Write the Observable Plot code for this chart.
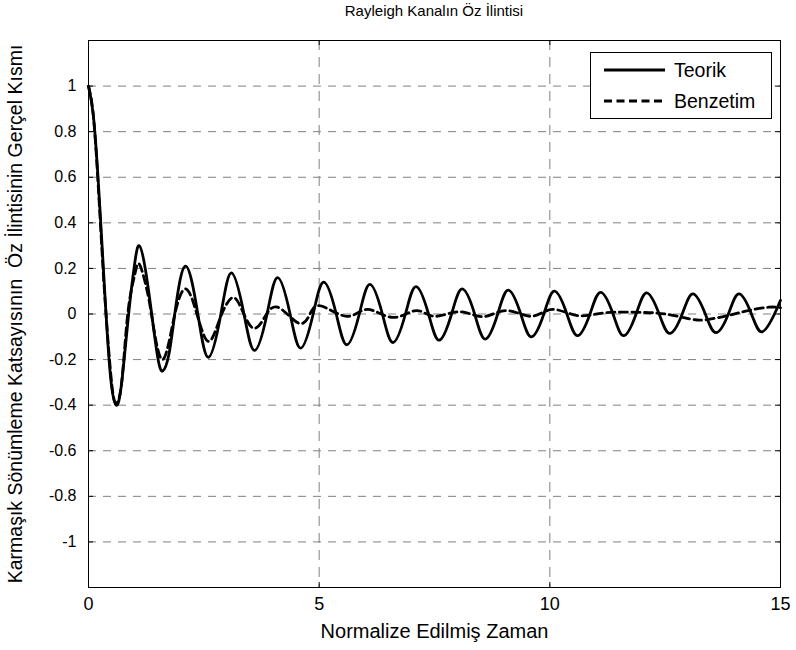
<!DOCTYPE html>
<html>
<head>
<meta charset="utf-8">
<script src="https://cdn.jsdelivr.net/npm/d3@7"></script>
<script src="https://cdn.jsdelivr.net/npm/@observablehq/plot@0.6"></script>
<style>
  html, body { margin: 0; padding: 0; background: #fff; }
  #wrap { position: relative; width: 796px; height: 650px; font-family: "Liberation Sans", Arial, sans-serif; }
  #title { position: absolute; left: 88px; width: 692px; top: 2px; text-align: center; font-size: 15px; color: #000; }
  #legend { position: absolute; left: 590px; top: 52px; width: 182px; height: 67px; border: 1px solid #000; background: #fff; box-sizing: border-box; }
  #legend svg { position: absolute; left: 0; top: 0; }
</style>
</head>
<body>
<div id="wrap">
  <div id="chart"></div>
  <div id="title">Rayleigh Kanalın Öz İlintisi</div>
  <div id="legend"></div>
</div>
<script>
const seriesNames = ["Teorik", "Benzetim"];
const xTicks = [0, 5, 10, 15];
const yTicks = [-1, -0.8, -0.6, -0.4, -0.2, 0, 0.2, 0.4, 0.6, 0.8, 1];

const timeTeorik = [0, 0.1, 0.2, 0.3, 0.38, 0.48, 0.6, 0.72, 0.87, 1.0, 1.1, 1.23, 1.37, 1.5, 1.61, 1.74, 1.87,
  2.1, 2.37, 2.6, 2.87, 3.1, 3.37, 3.6, 3.87, 4.1, 4.37, 4.6, 4.87, 5.1, 5.37, 5.6, 5.87,
  6.1, 6.37, 6.6, 6.87, 7.1, 7.37, 7.6, 7.87, 8.1, 8.37, 8.6, 8.87, 9.1, 9.37, 9.6, 9.87,
  10.1, 10.37, 10.6, 10.87, 11.1, 11.37, 11.6, 11.87, 12.1, 12.37, 12.6, 12.87,
  13.1, 13.37, 13.6, 13.87, 14.1, 14.37, 14.6, 14.87, 15];
const valuesTeorik = [1.0, 0.88, 0.62, 0.28, 0, -0.28, -0.40, -0.30, 0, 0.22, 0.30, 0.20, 0, -0.19, -0.25, -0.18, 0,
  0.21, 0, -0.19, 0, 0.18, 0, -0.16, 0, 0.16, 0, -0.15, 0, 0.14, 0, -0.135, 0,
  0.13, 0, -0.125, 0, 0.12, 0, -0.115, 0, 0.11, 0, -0.11, 0, 0.105, 0, -0.10, 0,
  0.10, 0, -0.095, 0, 0.095, 0, -0.095, 0, 0.093, 0, -0.085, 0,
  0.088, 0, -0.082, 0, 0.088, 0, -0.078, 0, 0.06];

const timeBenzetim = [0, 0.1, 0.2, 0.3, 0.38, 0.5, 0.6, 0.72, 0.85, 1.0, 1.1, 1.25, 1.38, 1.6, 1.85,
  2.1, 2.35, 2.6, 2.85, 3.1, 3.3, 3.55, 3.8, 4.1, 4.55, 4.8, 5.05, 5.6, 6.05, 6.6, 7.1,
  7.5, 8.05, 8.55, 9.05, 9.6, 10.05, 10.6, 11.2, 12.0, 12.5, 13.0, 13.35, 13.85, 14.3, 14.75, 15];
const valuesBenzetim = [1.0, 0.88, 0.6, 0.25, 0, -0.3, -0.39, -0.3, 0, 0.17, 0.22, 0.12, -0.02, -0.2, -0.02,
  0.11, 0, -0.12, -0.02, 0.07, 0.03, -0.06, -0.02, 0.03, -0.04, 0.0, 0.035, -0.01, 0.02, -0.015, 0.015,
  -0.01, 0.01, -0.012, 0.015, -0.01, 0.02, -0.007, 0.005, 0.007, 0.0, -0.02, -0.026, -0.007, 0.015, 0.03, 0.027];

const teorik = timeTeorik.map((t, i) => ({t, v: valuesTeorik[i]}));
const benzetim = timeBenzetim.map((t, i) => ({t, v: valuesBenzetim[i]}));

const fmtY = d => d === 0 ? "0" : String(+d.toFixed(1));
const gridColor = "#808080";
const xLabel = "Normalize Edilmiş Zaman";
const yLabel = "Karmaşık Sönümleme Katsayısının  Öz İlintisinin Gerçel Kısmı";
const dashSeries = "8,4.5";

const chart = Plot.plot({
  width: 796,
  height: 650,
  marginLeft: 88,
  marginRight: 16,
  marginTop: 40,
  marginBottom: 63,
  style: {fontFamily: "Liberation Sans, Arial, sans-serif", fontSize: "16px", color: "#000", background: "#fff"},
  x: {domain: [0, 15]},
  y: {domain: [-1.2, 1.2]},
  marks: [
    Plot.ruleX(xTicks.slice(1, -1), {stroke: gridColor, strokeDasharray: "10,7", strokeWidth: 1}),
    Plot.ruleY(yTicks, {stroke: gridColor, strokeDasharray: "8,7", strokeWidth: 1}),
    Plot.ruleY(yTicks, {x1: 0, x2: 0.11, stroke: "#000"}),
    Plot.ruleY(yTicks, {x1: 14.89, x2: 15, stroke: "#000"}),
    Plot.ruleX(xTicks, {y1: -1.2, y2: -1.178, stroke: "#000"}),
    Plot.ruleX(xTicks, {y1: 1.2, y2: 1.178, stroke: "#000"}),
    Plot.line(teorik, {x: "t", y: "v", curve: "natural", stroke: "#000", strokeWidth: 2.8}),
    Plot.line(benzetim, {x: "t", y: "v", curve: "natural", stroke: "#000", strokeWidth: 2.8, strokeDasharray: dashSeries}),
    Plot.frame({stroke: "#000"}),
    Plot.axisX({ticks: xTicks, tickSize: 0, tickPadding: 10, fontSize: 18, tickFormat: d => String(d), label: null}),
    Plot.axisX({ticks: [], tickSize: 0, fontSize: 20,
      label: xLabel, labelAnchor: "center", labelArrow: "none", labelOffset: 50}),
    Plot.axisY({ticks: yTicks, tickSize: 0, tickPadding: 12, tickFormat: fmtY, fontSize: 16, label: null}),
    Plot.axisY({ticks: [], tickSize: 0, fontSize: 19.5,
      label: yLabel, labelAnchor: "center", labelArrow: "none", labelOffset: 80})
  ]
});
document.getElementById("chart").appendChild(chart);

// legend
const leg = d3.select("#legend").append("svg").attr("width", 182).attr("height", 67);
seriesNames.forEach((name, i) => {
  const y = 17 + i * 31;
  leg.append("line").attr("x1", 13).attr("x2", 74).attr("y1", y).attr("y2", y)
    .attr("stroke", "#000").attr("stroke-width", 2.8)
    .attr("stroke-dasharray", i === 1 ? dashSeries : null);
  leg.append("text").attr("x", 83).attr("y", y + 7).text(name)
    .attr("font-family", "Liberation Sans, Arial, sans-serif").attr("font-size", 19.5);
});
</script>
</body>
</html>
